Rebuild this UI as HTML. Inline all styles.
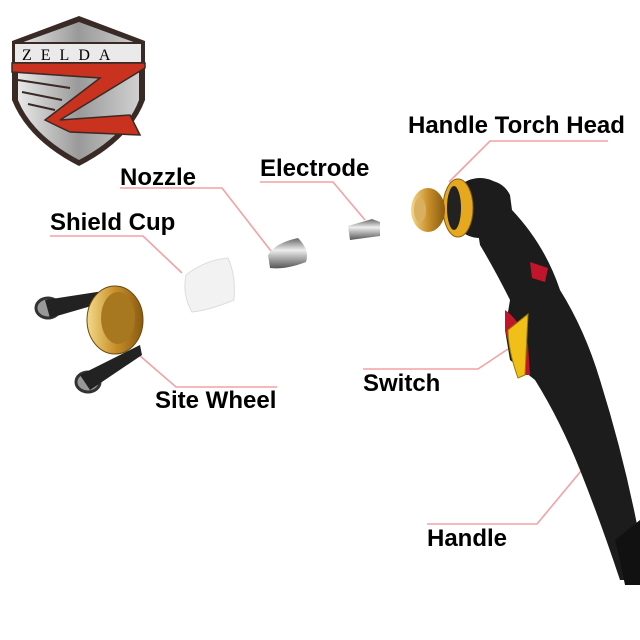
<!DOCTYPE html>
<html><head><meta charset="utf-8"><style>
html,body{margin:0;padding:0;background:#fff;}
svg{display:block}
text{font-family:"Liberation Sans",Arial,sans-serif;font-weight:bold;fill:#000;}
</style></head><body>
<svg width="640" height="640" viewBox="0 0 640 640" xmlns="http://www.w3.org/2000/svg">
<defs>
<linearGradient id="sh" x1="0" x2="1"><stop offset="0" stop-color="#e8e8e8"/><stop offset="0.5" stop-color="#9a9a9a"/><stop offset="1" stop-color="#d0d0d0"/></linearGradient>
<linearGradient id="br" x1="0" x2="1"><stop offset="0" stop-color="#f3d98a"/><stop offset="0.5" stop-color="#c8902a"/><stop offset="1" stop-color="#8a5a10"/></linearGradient>
<linearGradient id="mt" x1="0" y1="0" x2="0" y2="1"><stop offset="0" stop-color="#666"/><stop offset="0.4" stop-color="#eee"/><stop offset="1" stop-color="#555"/></linearGradient>
</defs>
<!-- logo -->
<path d="M79,16 L145,41 L145,100 Q130,140 79,166 Q28,140 12,100 L12,41 Z" fill="#3a2a26"/>
<path d="M79,22 L139,44 L139,100 Q126,135 79,160 Q32,135 18,100 L18,44 Z" fill="url(#sh)"/>
<rect x="14" y="43" width="128" height="20" fill="#eaeaea" stroke="#3a2a26" stroke-width="2"/>
<text x="22" y="60" font-size="16" letter-spacing="9" style="font-family:'Liberation Serif',serif;font-weight:normal" fill="#555">ZELDA</text>
<path d="M12,63 L145,63 L145,68 L60,120 L130,115 L140,135 L70,132 Q55,125 45,120 L100,78 L12,72 Z" fill="#c8321e" stroke="#3a2a26" stroke-width="1.5"/>
<path d="M18,80 L70,88 M22,92 L62,100 M28,104 L55,110" stroke="#3a2a26" stroke-width="2"/>
<!-- labels -->
<g stroke="#f4a0a4" stroke-width="1.6" fill="none">
<polyline points="449,182 490,141 608,141"/>
<polyline points="365,220 333,182 260,182"/>
<polyline points="271,251 222,188 120,188"/>
<polyline points="182,273 143,236 50,236"/>
<polyline points="139,355 176,387 277,387"/>
<polyline points="508,349 478,369 363,369"/>
<polyline points="586,465 537,524 427,524"/>
</g>
<g font-size="24">
<text x="408" y="133">Handle Torch Head</text>
<text x="260" y="176">Electrode</text>
<text x="120" y="185">Nozzle</text>
<text x="50" y="230">Shield Cup</text>
<text x="155" y="408">Site Wheel</text>
<text x="363" y="391">Switch</text>
<text x="427" y="546">Handle</text>
</g>
<!-- parts -->
<path d="M186,275 Q205,260 228,258 Q236,275 234,300 Q210,310 192,312 Q182,295 186,275 Z" fill="#f2f2f2" stroke="#ddd"/>
<path d="M268,255 Q275,243 298,238 Q310,250 306,262 Q285,270 270,268 Z" fill="url(#mt)"/>
<path d="M348,226 L372,219 L380,222 L380,236 L350,240 Z" fill="url(#mt)"/>
<!-- site wheel -->
<ellipse cx="48" cy="308" rx="12" ry="10" fill="#999" stroke="#333" stroke-width="3"/>
<ellipse cx="88" cy="382" rx="12" ry="10" fill="#999" stroke="#333" stroke-width="3"/>
<path d="M45,300 L110,290 L112,300 L50,318 Z" fill="#222"/>
<path d="M80,375 L140,345 L142,355 L90,390 Z" fill="#222"/>
<ellipse cx="115" cy="320" rx="28" ry="34" fill="url(#br)" stroke="#6a4a10"/>
<ellipse cx="118" cy="318" rx="17" ry="26" fill="#a87820"/>
<!-- torch -->
<circle cx="480" cy="208" r="30" fill="#1c1c1c"/>
<path d="M470,182 Q500,175 510,195 L512,210 Q545,245 560,290 Q585,330 600,380 Q625,460 640,540 L640,580 L620,580 Q600,520 580,470 Q560,420 535,380 L510,360 L505,330 L510,300 Q495,270 480,245 Z" fill="#1c1c1c"/>
<path d="M640,520 L640,585 L625,585 Q620,560 615,540 Z" fill="#111"/>
<path d="M505,310 Q520,320 528,345 L530,375 L520,375 Q510,350 505,330 Z" fill="#c0152a"/>
<path d="M508,330 L528,314 L525,375 L518,378 Q508,350 508,330 Z" fill="#f0c018" stroke="#9a7a00"/>
<path d="M530,262 L548,268 L545,282 L532,278 Z" fill="#c0152a"/>
<ellipse cx="458" cy="208" rx="15" ry="29" fill="#e6a81e" stroke="#8a6010"/>
<ellipse cx="454" cy="208" rx="7" ry="22" fill="#222"/>
<ellipse cx="428" cy="210" rx="17" ry="22" fill="url(#br)"/>
<ellipse cx="420" cy="210" rx="6" ry="12" fill="#d9b060"/>
</svg>
</body></html>
